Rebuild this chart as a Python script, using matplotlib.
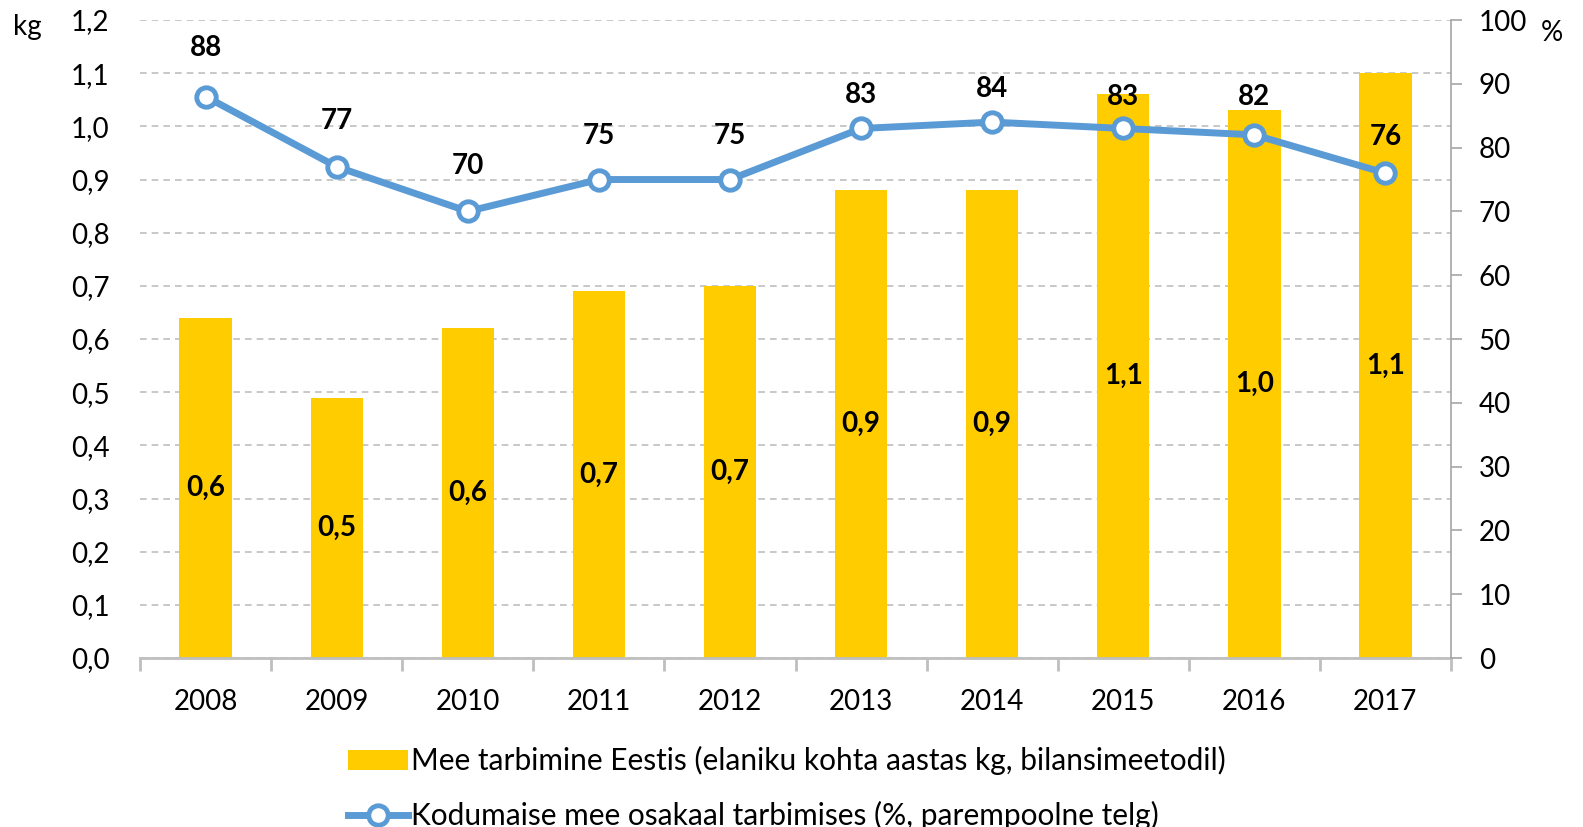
import matplotlib.pyplot as plt
import numpy as np

plt.rcParams['font.family'] = ['Lato', 'DejaVu Sans']

years = ['2008', '2009', '2010', '2011', '2012', '2013', '2014', '2015', '2016', '2017']
consumption = [0.64, 0.49, 0.62, 0.69, 0.70, 0.88, 0.88, 1.06, 1.03, 1.10]
domestic_share = [88, 77, 70, 75, 75, 83, 84, 83, 82, 76]

bar_label = 'Mee tarbimine Eestis (elaniku kohta aastas kg, bilansimeetodil)'
line_label = 'Kodumaise mee osakaal tarbimises (%, parempoolne telg)'

# label offsets above the line points (points), as Excel placed them
label_offsets = [35, 33, 33, 31, 31, 24, 24, 23, 27, 26]

yellow = '#FFCC00'
blue = '#5B9BD5'
grey = '#A6A6A6'
fs = 20

fig = plt.figure(figsize=(15.83, 8.27), dpi=100)
ax = fig.add_axes([0.0885, 0.2043, 0.8281, 0.7715])
ax2 = ax.twinx()

x = np.arange(len(years))
bars = ax.bar(x, consumption, width=0.4, color=yellow, zorder=2, label=bar_label)
for xi, v in zip(x, consumption):
    ax.text(xi, v / 2, f'{v:.1f}'.replace('.', ','), ha='center', va='center',
            fontsize=fs, fontweight='bold', zorder=3)

ax.set_xlim(-0.5, len(years) - 0.5)
ax.set_ylim(0, 1.2)
ticks = np.arange(0, 1.21, 0.1)
ax.set_yticks(ticks)
ax.set_yticklabels([f'{t:.1f}'.replace('.', ',') for t in ticks])
ax.yaxis.grid(True, linestyle=(0, (4, 3)), color='#BFBFBF', linewidth=1.2, zorder=0)
ax.set_axisbelow(True)
ax.tick_params(axis='y', length=0, labelsize=fs, pad=22)

ax.set_xticks(x)
ax.set_xticklabels(years)
ax.set_xticks(np.arange(-0.5, len(years)), minor=True)
ax.tick_params(axis='x', which='major', length=0, labelsize=fs, pad=22)
ax.tick_params(axis='x', which='minor', length=9, width=2, color='#BFBFBF')

for s in ['top', 'left', 'right']:
    ax.spines[s].set_visible(False)
ax.spines['bottom'].set_color('#BFBFBF')
ax.spines['bottom'].set_linewidth(2)

line, = ax2.plot(x, domestic_share, color=blue, linewidth=5, marker='o', markersize=14,
                 markerfacecolor='white', markeredgecolor=blue, markeredgewidth=3.5,
                 zorder=4, label=line_label)
for xi, v, off in zip(x, domestic_share, label_offsets):
    ax2.annotate(str(v), (xi, v), xytext=(0, off), textcoords='offset points',
                 ha='center', va='center', fontsize=fs, fontweight='bold')
ax2.set_ylim(0, 100)
ax2.set_yticks(range(0, 101, 10))
ax2.tick_params(axis='y', labelsize=fs, length=8, width=1.2, color=grey, pad=12)
for s in ['top', 'left', 'bottom']:
    ax2.spines[s].set_visible(False)
ax2.spines['right'].set_color(grey)
ax2.spines['right'].set_linewidth(1.2)

fig.text(0.008, 0.967, 'kg', fontsize=fs, va='center', ha='left')
fig.text(0.973, 0.96, '%', fontsize=fs, va='center', ha='left')

fig.legend(handles=[bars, line], loc='upper center', bbox_to_anchor=(0.497, 0.13),
           frameon=False, fontsize=21.5, handlelength=2.0, handletextpad=0.1,
           labelspacing=0.85)

fig.savefig('out.png', dpi=100)
